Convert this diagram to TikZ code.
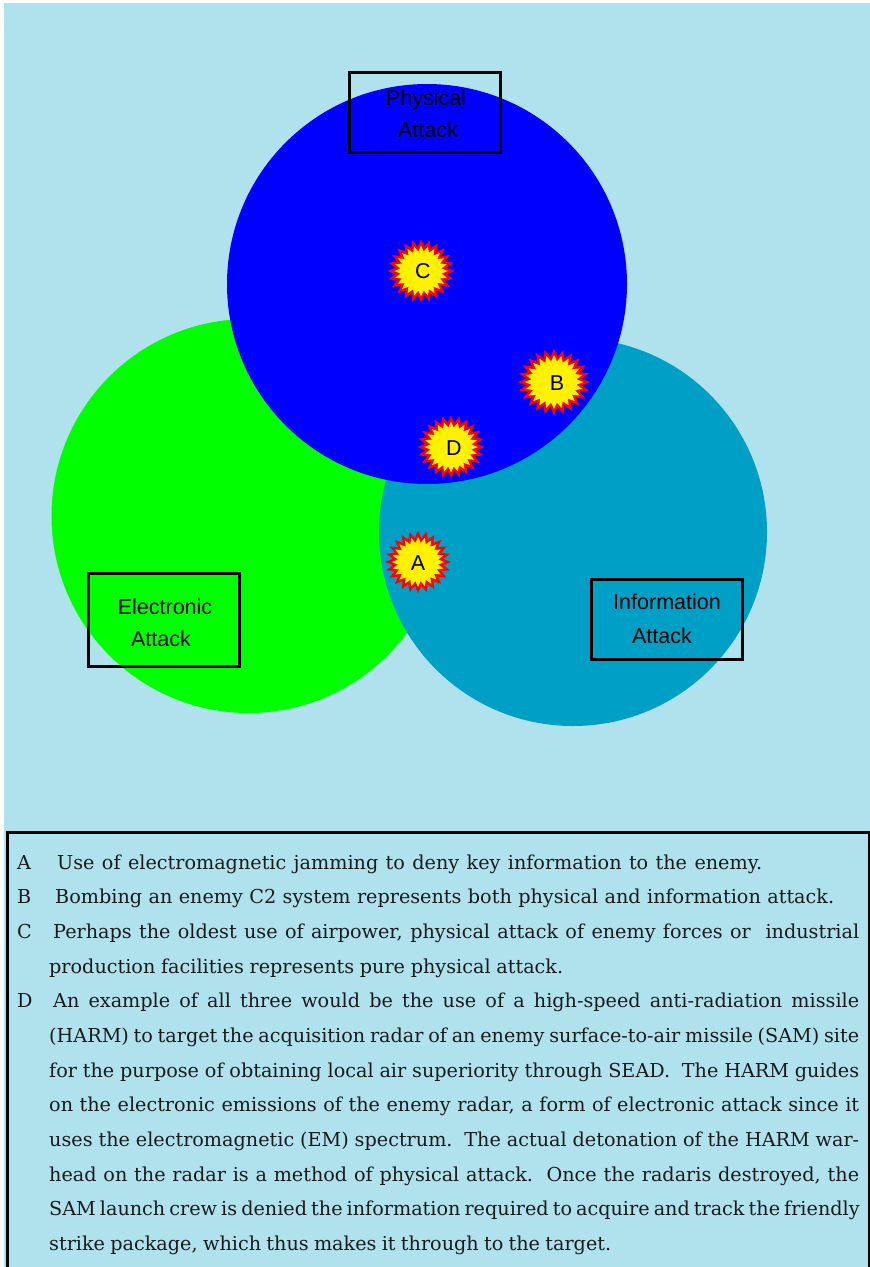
\documentclass[tikz,border=0pt]{standalone}
\usepackage{fontspec}
\setmainfont{DejaVu Serif}
\newfontfamily\labelfont{Liberation Sans}
\usetikzlibrary{shapes.geometric}
\definecolor{pagebg}{HTML}{B0E2EE}
\definecolor{tealc}{HTML}{00A0C6}
\definecolor{bodytext}{HTML}{1A1A1A}
\tikzset{
  labelbox/.style={draw=black,line width=3pt,rectangle,inner sep=0pt},
  boxtext/.style={font=\labelfont\fontsize{21.5}{21.5}\selectfont,text=black,inner sep=0pt,anchor=base},
  burst/.style={star,star points=24,star point ratio=1.3,fill=yellow,preaction={draw=red,line width=5pt,miter limit=3},minimum size=#1,inner sep=0pt,transform shape},
  burstletter/.style={font=\labelfont\fontsize{21.5}{21.5}\selectfont,text=black,inner sep=0pt},
  lineleft/.style={anchor=base west,inner sep=0pt,text=bodytext,font=\fontsize{19.2}{22}\selectfont},
}
\newcommand{\fullline}[1]{\makebox[810pt][s]{#1}}
\begin{document}
\begin{tikzpicture}[x=1pt,y=-1pt]
\useasboundingbox (0,0) rectangle (870,1267);
\fill[white] (0,0) rectangle (870,1267);
\fill[pagebg] (4,3) rectangle (870,1267);
% circles
\fill[green] (248.5,516) circle[radius=197];
\fill[tealc] (573,532) circle[radius=194];
\fill[blue] (427,284) circle[radius=200];
% label boxes
\node[labelbox,minimum width=151pt,minimum height=80pt] (phys) at (425,112) {};
\node[labelbox,minimum width=151pt,minimum height=93pt] (elec) at (164,620) {};
\node[labelbox,minimum width=151pt,minimum height=80pt] (info) at (666.5,619) {};
\node[boxtext] (phys1) at (426,105) {Physical};
\node[boxtext] (phys2) at (428,137) {Attack};
\node[boxtext] (elec1) at (165,614) {Electronic};
\node[boxtext] (elec2) at (161,646) {Attack};
\node[boxtext] (info1) at (667,609) {Information};
\node[boxtext] (info2) at (662,643) {Attack};
% bursts
\node[burst=51pt,xscale=1.05] (c) at (421,271) {};
\node[burst=54pt,xscale=1.09] (b) at (554,382) {};
\node[burst=51pt,xscale=1.05] (d) at (451,447) {};
\node[burst=50pt,xscale=1.05] (a) at (418,562) {};
\node[burstletter] (cl) at (423,271) {C};
\node[burstletter] (bl) at (557,383) {B};
\node[burstletter] (dl) at (454,448) {D};
\node[burstletter] (al) at (418,563) {A};
% legend box
\draw[line width=3pt,fill=pagebg] (7,1275) -- (7,832) -- (869.5,832) -- (869.5,1275);
\node[lineleft] (t1) at (17,869) {A};
\node[lineleft] (t1b) at (57,869) {\makebox[705pt][s]{Use of electromagnetic jamming to deny key information to the enemy.}};
\node[lineleft] (t2) at (17,903) {B};
\node[lineleft] (t2b) at (55,903) {\makebox[779pt][s]{Bombing an enemy C2 system represents both physical and information attack.}};
\node[lineleft] (t3) at (17,938) {C};
\node[lineleft] (t3b) at (53,938) {\makebox[806pt][s]{Perhaps the oldest use of airpower, physical attack of enemy forces or\ \ industrial}};
\node[lineleft] (t4) at (49,973) {\makebox[514pt][s]{production facilities represents pure physical attack.}};
\node[lineleft] (t5) at (17,1007) {D};
\node[lineleft] (t5b) at (53,1007) {\makebox[806pt][s]{An example of all three would be the use of a high-speed anti-radiation missile}};
\node[lineleft] (t6) at (49,1042) {\fullline{(HARM) to target the acquisition radar of an enemy surface-to-air missile (SAM) site}};
\node[lineleft] (t7) at (49,1077) {\fullline{for the purpose of obtaining local air superiority through SEAD.\ \ The HARM guides}};
\node[lineleft] (t8) at (49,1111) {\fullline{on the electronic emissions of the enemy radar, a form of electronic attack since it}};
\node[lineleft] (t9) at (49,1146) {\fullline{uses the electromagnetic (EM) spectrum.\ \ The actual detonation of the HARM war-}};
\node[lineleft] (t10) at (49,1181) {\fullline{head on the radar is a method of physical attack.\ \ Once the radaris destroyed, the}};
\node[lineleft] (t11) at (49,1215) {\fullline{SAM launch crew is denied the information required to acquire and track the friendly}};
\node[lineleft] (t12) at (49,1250) {\makebox[562pt][s]{strike package, which thus makes it through to the target.}};
\end{tikzpicture}
\end{document}
